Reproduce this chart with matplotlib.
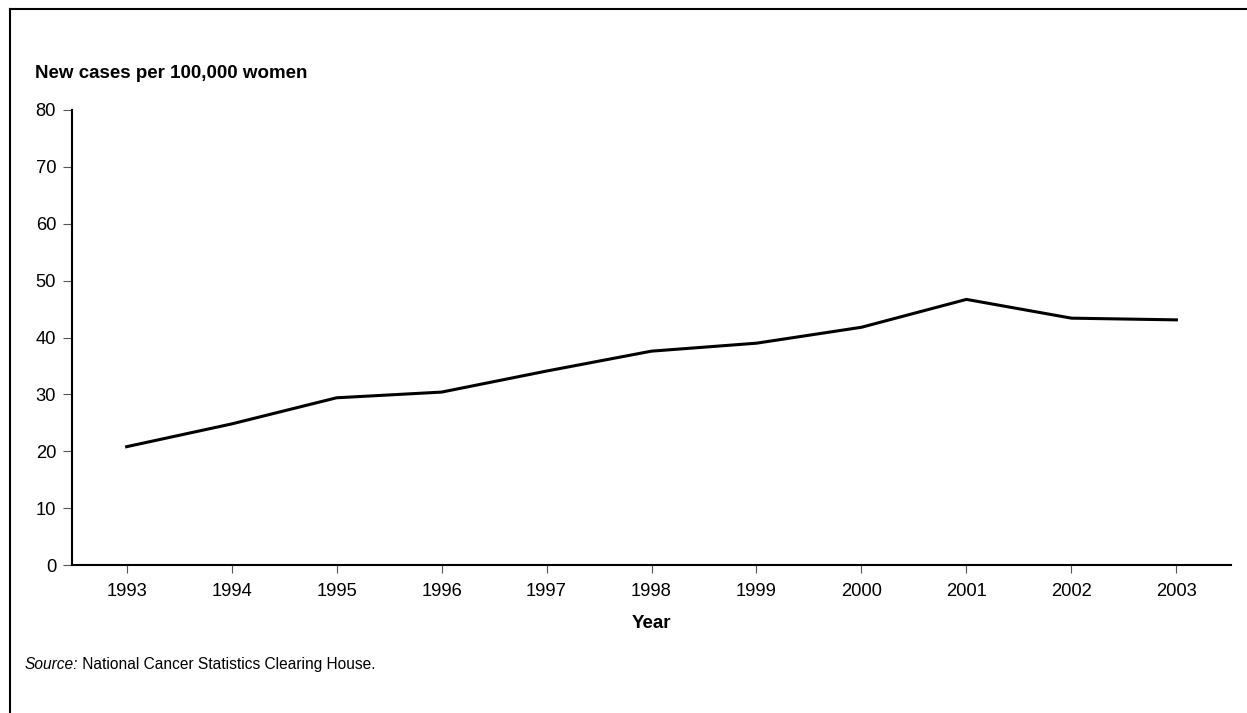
"""
Line chart: new cases per 100,000 women, 1993-2003
"""
import matplotlib
matplotlib.use("Agg")
import matplotlib.pyplot as plt
from matplotlib.lines import Line2D

# chart data
years = ["1993", "1994", "1995", "1996", "1997", "1998",
         "1999", "2000", "2001", "2002", "2003"]
rates = [20.8, 24.8, 29.4, 30.4, 34.1, 37.6, 39.0, 41.8, 46.7, 43.4, 43.1]
y_ticks = [0, 10, 20, 30, 40, 50, 60, 70, 80]

W, H = 1247, 713
plt.rcParams["font.family"] = ["Liberation Sans", "DejaVu Sans"]

fig = plt.figure(figsize=(W / 100, H / 100), dpi=100)
ax = fig.add_axes([72 / W, 1 - 565 / H, (1231 - 72) / W, (565 - 110) / H])

x = list(range(len(years)))
ax.plot(x, rates, color="black", lw=2.2, solid_joinstyle="miter")

# axes styling
ax.set_xlim(-0.52, len(years) - 1 + 0.52)
ax.set_ylim(0, 80)
ax.set_xticks(x)
ax.set_xticklabels(years)
ax.set_yticks(y_ticks)
for side in ["top", "right"]:
    ax.spines[side].set_visible(False)
for side in ["left", "bottom"]:
    ax.spines[side].set_linewidth(1.5)
    ax.spines[side].set_color("black")
ax.tick_params(axis="x", direction="out", length=6, width=0.8,
               color="#555555", pad=7, labelsize=13.2)
ax.tick_params(axis="y", direction="out", length=6.5, width=0.8,
               color="#555555", pad=5, labelsize=13.2)

# titles and source text
fig.text(35 / W, 1 - 78 / H, "New cases per 100,000 women",
         fontsize=13.5, fontweight="bold", va="baseline", ha="left")
fig.text(651 / W, 1 - 628 / H, "Year", fontsize=13.5,
         fontweight="bold", va="baseline", ha="center")
src = fig.text(25 / W, 1 - 669 / H, "Source:", fontsize=11.2,
               style="italic", va="baseline", ha="left")
ax.annotate(" National Cancer Statistics Clearing House.", xy=(1, 0),
            xycoords=src, fontsize=11.2, va="bottom", ha="left",
            annotation_clip=False)

# frame around the figure (left and top edges)
fig.add_artist(Line2D([10 / W, 10 / W], [0, 1 - 9 / H], color="black",
                      lw=1.5, transform=fig.transFigure))
fig.add_artist(Line2D([10 / W, 1], [1 - 9 / H, 1 - 9 / H], color="black",
                      lw=1.5, transform=fig.transFigure))

fig.savefig("out.png", dpi=100)
